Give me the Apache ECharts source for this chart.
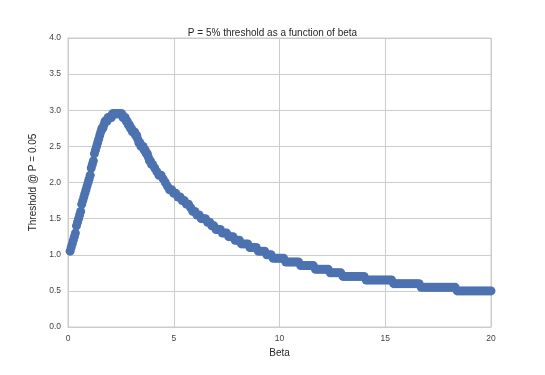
<!DOCTYPE html>
<html>
<head>
<meta charset="utf-8">
<script src="https://cdn.jsdelivr.net/npm/echarts@6/dist/echarts.min.js"></script>
<style>
    html, body { margin: 0; padding: 0; background: #ffffff; }
    #grafico { width: 545px; height: 375px; }
</style>
</head>
<body>
<div id="grafico"></div>
<script>
// Valores de beta (eje x)
const beta = [
    0.1, 0.2, 0.3, 0.4, 0.5, 0.6, 0.7, 0.8, 0.9, 1.0,
    1.1, 1.2, 1.3, 1.4, 1.5, 1.6, 1.7, 1.8, 1.9, 2.0,
    2.1, 2.2, 2.3, 2.4, 2.5, 2.6, 2.7, 2.8, 2.9, 3.0,
    3.1, 3.2, 3.3, 3.4, 3.5, 3.6, 3.7, 3.8, 3.9, 4.0,
    4.1, 4.2, 4.3, 4.4, 4.5, 4.6, 4.7, 4.8, 4.9, 5.0,
    5.1, 5.2, 5.3, 5.4, 5.5, 5.6, 5.7, 5.8, 5.9, 6.0,
    6.1, 6.2, 6.3, 6.4, 6.5, 6.6, 6.7, 6.8, 6.9, 7.0,
    7.1, 7.2, 7.3, 7.4, 7.5, 7.6, 7.7, 7.8, 7.9, 8.0,
    8.1, 8.2, 8.3, 8.4, 8.5, 8.6, 8.7, 8.8, 8.9, 9.0,
    9.1, 9.2, 9.3, 9.4, 9.5, 9.6, 9.7, 9.8, 9.9, 10.0,
    10.1, 10.2, 10.3, 10.4, 10.5, 10.6, 10.7, 10.8, 10.9, 11.0,
    11.1, 11.2, 11.3, 11.4, 11.5, 11.6, 11.7, 11.8, 11.9, 12.0,
    12.1, 12.2, 12.3, 12.4, 12.5, 12.6, 12.7, 12.8, 12.9, 13.0,
    13.1, 13.2, 13.3, 13.4, 13.5, 13.6, 13.7, 13.8, 13.9, 14.0,
    14.1, 14.2, 14.3, 14.4, 14.5, 14.6, 14.7, 14.8, 14.9, 15.0,
    15.1, 15.2, 15.3, 15.4, 15.5, 15.6, 15.7, 15.8, 15.9, 16.0,
    16.1, 16.2, 16.3, 16.4, 16.5, 16.6, 16.7, 16.8, 16.9, 17.0,
    17.1, 17.2, 17.3, 17.4, 17.5, 17.6, 17.7, 17.8, 17.9, 18.0,
    18.1, 18.2, 18.3, 18.4, 18.5, 18.6, 18.7, 18.8, 18.9, 19.0,
    19.1, 19.2, 19.3, 19.4, 19.5, 19.6, 19.7, 19.8, 19.9, 20.0
];

// Umbral @ P = 0.05 (eje y)
const umbral = [
    1.05, 1.15, 1.25, 1.4, 1.5, 1.6, 1.75, 1.85, 1.95, 2.05,
    2.2, 2.3, 2.45, 2.55, 2.65, 2.75, 2.8, 2.85, 2.9, 2.9,
    2.95, 2.95, 2.95, 2.95, 2.95, 2.9, 2.9, 2.85, 2.8, 2.75,
    2.7, 2.65, 2.6, 2.55, 2.5, 2.45, 2.4, 2.35, 2.3, 2.25,
    2.2, 2.15, 2.1, 2.1, 2.05, 2.0, 1.95, 1.9, 1.9, 1.85,
    1.85, 1.8, 1.8, 1.75, 1.75, 1.7, 1.7, 1.65, 1.6, 1.6,
    1.55, 1.55, 1.5, 1.5, 1.5, 1.45, 1.45, 1.4, 1.4, 1.35,
    1.35, 1.35, 1.3, 1.3, 1.3, 1.25, 1.25, 1.25, 1.2, 1.2,
    1.2, 1.15, 1.15, 1.15, 1.15, 1.1, 1.1, 1.1, 1.1, 1.05,
    1.05, 1.05, 1.05, 1.0, 1.0, 1.0, 0.95, 0.95, 0.95, 0.95,
    0.95, 0.95, 0.9, 0.9, 0.9, 0.9, 0.9, 0.9, 0.9, 0.85,
    0.85, 0.85, 0.85, 0.85, 0.85, 0.85, 0.8, 0.8, 0.8, 0.8,
    0.8, 0.8, 0.8, 0.75, 0.75, 0.75, 0.75, 0.75, 0.75, 0.7,
    0.7, 0.7, 0.7, 0.7, 0.7, 0.7, 0.7, 0.7, 0.7, 0.7,
    0.65, 0.65, 0.65, 0.65, 0.65, 0.65, 0.65, 0.65, 0.65, 0.65,
    0.65, 0.65, 0.65, 0.6, 0.6, 0.6, 0.6, 0.6, 0.6, 0.6,
    0.6, 0.6, 0.6, 0.6, 0.6, 0.6, 0.55, 0.55, 0.55, 0.55,
    0.55, 0.55, 0.55, 0.55, 0.55, 0.55, 0.55, 0.55, 0.55, 0.55,
    0.55, 0.55, 0.55, 0.5, 0.5, 0.5, 0.5, 0.5, 0.5, 0.5,
    0.5, 0.5, 0.5, 0.5, 0.5, 0.5, 0.5, 0.5, 0.5, 0.5
];

// Puntos intermedios en la zona del pico (muestreo mas fino)
const betaPico = [
    0.15, 0.25, 0.35, 0.45, 0.55, 0.65, 0.75, 0.85, 0.95, 1.05,
    1.15, 1.25, 1.35, 1.45, 1.55, 1.65, 1.75, 1.85, 1.95, 2.05,
    2.15, 2.25, 2.35, 2.45, 2.55, 2.65, 2.75, 2.85, 2.95, 3.05,
    3.15, 3.25, 3.35, 3.45, 3.55, 3.65, 3.75, 3.85, 3.95
];
const umbralPico = [
    1.1, 1.2, 1.3, 1.45, 1.55, 1.7, 1.8, 1.9, 2.0, 2.1,
    2.25, 2.4, 2.5, 2.6, 2.7, 2.75, 2.85, 2.85, 2.9, 2.9,
    2.95, 2.95, 2.95, 2.95, 2.95, 2.9, 2.85, 2.8, 2.75, 2.7,
    2.7, 2.65, 2.55, 2.5, 2.5, 2.45, 2.4, 2.3, 2.25
];

const ticksX = [0, 5, 10, 15, 20];
const ticksY = [0.0, 0.5, 1.0, 1.5, 2.0, 2.5, 3.0, 3.5, 4.0];

const fuente = 'Liberation Sans, Arial, sans-serif';
const gris = '#cccccc';

const puntos = beta.map((b, i) => [b, umbral[i]])
    .concat(betaPico.map((b, i) => [b, umbralPico[i]]));

const chartDom = document.getElementById('grafico');
const myChart = echarts.init(chartDom);

const option = {
    animation: false,
    backgroundColor: '#ffffff',
    title: {
        text: 'P = 5% threshold as a function of beta',
        left: 'center',
        top: 23,
        textStyle: {
            fontFamily: fuente,
            fontSize: 10,
            fontWeight: 'normal',
            color: '#262626'
        }
    },
    grid: {
        left: 68,
        right: 54,
        top: 38,
        bottom: 48,
        show: true,
        borderColor: gris,
        borderWidth: 1
    },
    xAxis: {
        type: 'value',
        min: ticksX[0],
        max: ticksX[ticksX.length - 1],
        interval: 5,
        name: 'Beta',
        nameLocation: 'middle',
        nameGap: 19,
        nameTextStyle: { fontFamily: fuente, fontSize: 10, color: '#262626' },
        axisLine: { show: true, lineStyle: { color: gris } },
        axisTick: { show: false },
        axisLabel: { fontFamily: fuente, fontSize: 8.5, color: '#444', margin: 7 },
        splitLine: { show: true, lineStyle: { color: gris, width: 1 } }
    },
    yAxis: {
        type: 'value',
        min: ticksY[0],
        max: ticksY[ticksY.length - 1],
        interval: 0.5,
        name: 'Threshold @ P = 0.05',
        nameLocation: 'middle',
        nameGap: 23,
        nameTextStyle: { fontFamily: fuente, fontSize: 10, color: '#262626' },
        axisLine: { show: true, lineStyle: { color: gris } },
        axisTick: { show: false },
        axisLabel: {
            fontFamily: fuente,
            fontSize: 8.5,
            color: '#444',
            margin: 7,
            formatter: value => value.toFixed(1)
        },
        splitLine: { show: true, lineStyle: { color: gris, width: 1 } }
    },
    series: [{
        type: 'scatter',
        data: puntos,
        symbol: 'circle',
        symbolSize: 9,
        clip: true,
        itemStyle: { color: '#4C72B0', opacity: 1 }
    }]
};

myChart.setOption(option);
</script>
</body>
</html>
